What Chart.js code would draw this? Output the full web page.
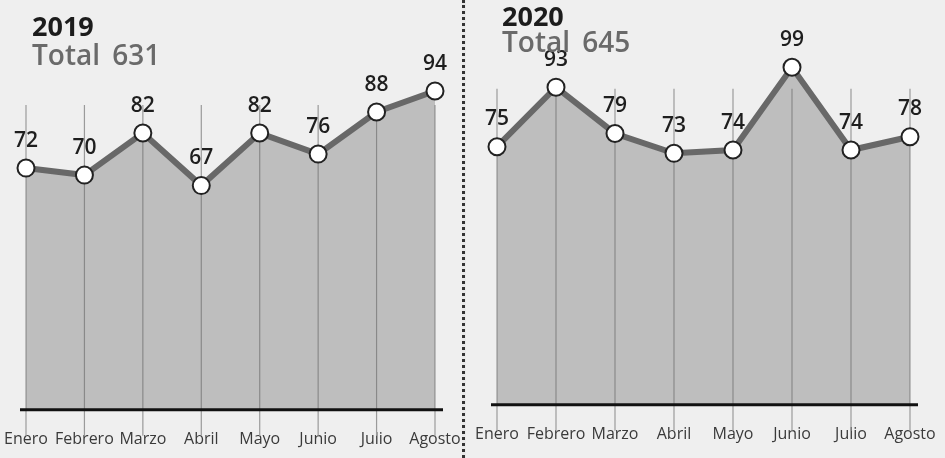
<!DOCTYPE html>
<html>
<head>
<meta charset="utf-8">
<script src="https://cdn.jsdelivr.net/npm/chart.js@4.4.0/dist/chart.umd.min.js"></script>
<style>
    html, body { margin: 0; padding: 0; }
    body {
        width: 945px;
        height: 458px;
        background: #e9e9e9;
        position: relative;
        overflow: hidden;
        font-family: "Open Sans", "Noto Sans", sans-serif;
    }
    .panel { position: absolute; top: 0; height: 458px; background: #efefef; overflow: hidden; }
    #panel2019 { left: 0; width: 462px; }
    #panel2020 { left: 466px; width: 479px; }
    .separator {
        position: absolute; left: 462px; top: 0; width: 0; height: 458px;
        border-left: 3px dotted #333;
    }
    .title { position: absolute; line-height: 1; }
    .year { font-size: 27px; font-weight: 700; color: #1c1c1c; }
    .total { font-size: 28px; font-weight: 600; color: #6a6a6a; word-spacing: 5px; }
    canvas { position: absolute; left: 0; top: 0; }
</style>
</head>
<body>
<div class="panel" id="panel2019">
    <canvas id="chart2019" width="462" height="458"></canvas>
    <div class="title year" style="left:32px; top:12px;">2019</div>
    <div class="title total" style="left:32px; top:40px;">Total 631</div>
</div>
<div class="separator"></div>
<div class="panel" id="panel2020">
    <canvas id="chart2020" width="479" height="458"></canvas>
    <div class="title year" style="left:36px; top:2px;">2020</div>
    <div class="title total" style="left:36px; top:27px;">Total 645</div>
</div>

<script>
// ========================================
// DATOS
// ========================================
const meses = ['Enero', 'Febrero', 'Marzo', 'Abril', 'Mayo', 'Junio', 'Julio', 'Agosto'];
const valores2019 = [72, 70, 82, 67, 82, 76, 88, 94];
const valores2020 = [75, 93, 79, 73, 74, 99, 74, 78];

// ========================================
// PLUGINS
// ========================================

// Líneas verticales por mes (desde arriba hasta debajo de la base)
const lineasMes = {
    id: 'lineasMes',
    beforeDatasetsDraw(chart, args, opts) {
        const ctx = chart.ctx;
        const x = chart.scales.x;
        const y = chart.scales.y;
        const top = y.getPixelForValue(opts.topValue);
        const bottom = chart.chartArea.bottom + opts.below;
        ctx.save();
        ctx.strokeStyle = '#9a9a9a';
        ctx.lineWidth = 1.2;
        meses.forEach((m, i) => {
            const px = x.getPixelForValue(i);
            ctx.beginPath();
            ctx.moveTo(px, top);
            ctx.lineTo(px, bottom);
            ctx.stroke();
        });
        ctx.restore();
    },
    afterDatasetsDraw(chart) {
        // Línea base negra
        const ctx = chart.ctx;
        const area = chart.chartArea;
        ctx.save();
        ctx.strokeStyle = '#111';
        ctx.lineWidth = 3;
        ctx.beginPath();
        ctx.moveTo(area.left - 6, area.bottom);
        ctx.lineTo(area.right + 8, area.bottom);
        ctx.stroke();
        ctx.restore();
    }
};

// Valores encima de cada punto
const etiquetasValor = {
    id: 'etiquetasValor',
    afterDatasetsDraw(chart) {
        const ctx = chart.ctx;
        const meta = chart.getDatasetMeta(0);
        const data = chart.data.datasets[0].data;
        ctx.save();
        ctx.font = '600 21px "Open Sans", sans-serif';
        ctx.fillStyle = '#1e1e1e';
        ctx.textAlign = 'center';
        ctx.textBaseline = 'bottom';
        meta.data.forEach((pt, i) => {
            ctx.fillText(String(data[i]), pt.x, pt.y - 17);
        });
        ctx.restore();
    }
};

// ========================================
// GRÁFICOS
// ========================================

function crearGrafico(canvasId, valores, yMin, yMax, padding, topValue) {
    const ctx = document.getElementById(canvasId);
    return new Chart(ctx, {
        type: 'line',
        data: {
            labels: meses,
            datasets: [{
                data: valores,
                borderColor: '#686868',
                borderWidth: 6,
                backgroundColor: 'rgba(110, 110, 110, 0.38)',
                fill: 'start',
                tension: 0,
                pointRadius: 8.5,
                pointBorderWidth: 2,
                pointBorderColor: '#222',
                pointBackgroundColor: '#ffffff',
                clip: false
            }]
        },
        options: {
            responsive: false,
            animation: false,
            events: [],
            layout: { padding: padding, autoPadding: false },
            scales: {
                x: {
                    offset: false,
                    grid: {
                        drawOnChartArea: false,
                        drawTicks: true,
                        tickLength: 20,
                        tickColor: 'rgba(0,0,0,0)'
                    },
                    border: { display: false },
                    ticks: {
                        color: '#3a3a3a',
                        padding: 0,
                        maxRotation: 0,
                        autoSkip: false,
                        font: { family: '"Open Sans", sans-serif', size: 16, weight: 400 }
                    }
                },
                y: {
                    display: false,
                    min: yMin,
                    max: yMax
                }
            },
            plugins: {
                legend: { display: false },
                tooltip: { enabled: false },
                lineasMes: { topValue: topValue, below: 26 }
            }
        },
        plugins: [lineasMes, etiquetasValor]
    });
}

document.addEventListener('DOMContentLoaded', function() {
    crearGrafico('chart2019', valores2019, 3, 100,
        { left: 26, right: 27, top: 70, bottom: 9 }, 90);
    crearGrafico('chart2020', valores2020, -3, 100,
        { left: 31, right: 35, top: 64, bottom: 14 }, 92.5);
});
</script>
</body>
</html>
